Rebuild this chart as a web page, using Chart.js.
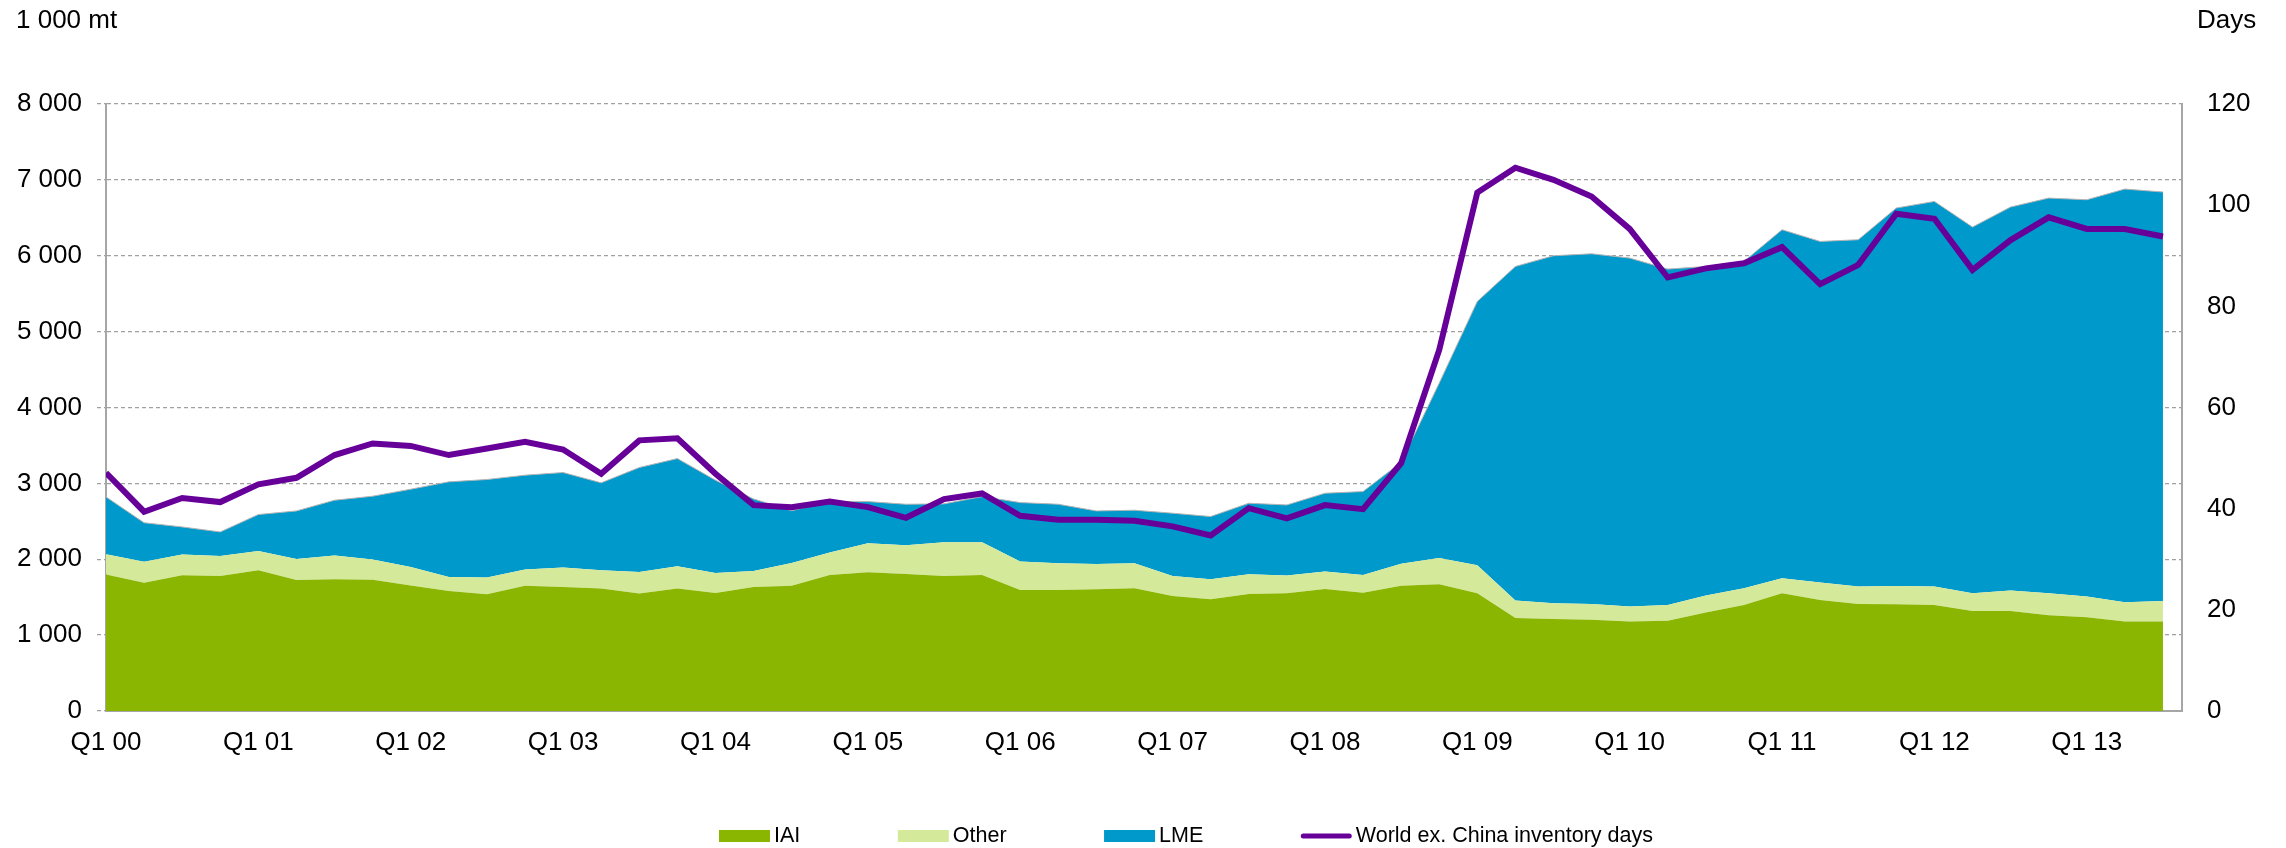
<!DOCTYPE html>
<html>
<head>
<meta charset="utf-8">
<script src="https://cdn.jsdelivr.net/npm/chart.js@4"></script>
<style>
  html, body { margin: 0; padding: 0; background: #fff; }
  #wrap { width: 2286px; height: 848px; position: relative; }
</style>
</head>
<body>
<div id="wrap"><canvas id="stocks"></canvas></div>
<script>
// quarterly, Q1 00 .. Q3 13
const quarters = [
  'Q1 00', 'Q2 00', 'Q3 00', 'Q4 00', 'Q1 01', 'Q2 01', 'Q3 01', 'Q4 01',
  'Q1 02', 'Q2 02', 'Q3 02', 'Q4 02', 'Q1 03', 'Q2 03', 'Q3 03', 'Q4 03',
  'Q1 04', 'Q2 04', 'Q3 04', 'Q4 04', 'Q1 05', 'Q2 05', 'Q3 05', 'Q4 05',
  'Q1 06', 'Q2 06', 'Q3 06', 'Q4 06', 'Q1 07', 'Q2 07', 'Q3 07', 'Q4 07',
  'Q1 08', 'Q2 08', 'Q3 08', 'Q4 08', 'Q1 09', 'Q2 09', 'Q3 09', 'Q4 09',
  'Q1 10', 'Q2 10', 'Q3 10', 'Q4 10', 'Q1 11', 'Q2 11', 'Q3 11', 'Q4 11',
  'Q1 12', 'Q2 12', 'Q3 12', 'Q4 12', 'Q1 13', 'Q2 13', 'Q3 13'
];

// stocks, 1 000 mt
const iai = [
  1800, 1690, 1790, 1780, 1855, 1725, 1735, 1730, 1655, 1580, 1540, 1650, 1635, 1615,
  1550, 1615, 1555, 1633, 1650, 1793, 1829, 1807, 1780, 1793, 1596, 1596, 1604, 1618,
  1516, 1473, 1543, 1552, 1609, 1560, 1650, 1672, 1552, 1225, 1213, 1204, 1178, 1191,
  1297, 1398, 1552, 1464, 1411, 1407, 1398, 1319, 1319, 1262, 1235, 1178, 1178
];
const other = [
  266, 277, 272, 264, 255, 279, 313, 266, 244, 187, 218, 214, 255, 240,
  283, 293, 265, 213, 300, 295, 382, 378, 444, 431, 373, 351, 334, 329,
  264, 263, 259, 233, 228, 233, 290, 346, 368, 230, 207, 207, 198, 207,
  224, 220, 197, 228, 229, 241, 242, 233, 268, 290, 273, 255, 273
];
const lme = [
  756, 514, 364, 316, 479, 633, 730, 835, 1024, 1253, 1293, 1244, 1253, 1152,
  1376, 1419, 1222, 949, 690, 672, 549, 540, 506, 602, 778, 778, 699, 699,
  827, 827, 936, 931, 1033, 1099, 1337, 2303, 3478, 4404, 4580, 4615, 4593, 4426,
  4338, 4307, 4594, 4497, 4571, 4981, 5076, 4826, 5055, 5208, 5230, 5446, 5389
];
// world ex. China inventory days (right axis)
const days = [
  47.1, 39.4, 42.1, 41.3, 44.8, 46.1, 50.6, 52.9, 52.4, 50.6, 51.9, 53.2, 51.7, 46.9,
  53.5, 53.9, 46.9, 40.7, 40.3, 41.4, 40.3, 38.2, 41.9, 43.0, 38.6, 37.8, 37.8, 37.6,
  36.5, 34.7, 40.1, 38.1, 40.7, 39.9, 49.0, 71.4, 102.5, 107.4, 105.0, 101.7, 95.3, 85.7,
  87.5, 88.5, 91.7, 84.4, 88.2, 98.3, 97.3, 87.2, 93.1, 97.6, 95.3, 95.3, 93.8
];

const seriesNames = ['IAI', 'Other', 'LME', 'World ex. China inventory days'];
const colors = ['#8ab500', '#d5e99b', '#0099cc', '#660099'];

const fontFamily = '"Liberation Sans", Arial, sans-serif';
const tickFont = { family: fontFamily, size: 26 };
const axisGrey = '#a6a6a6';

const toPoints = arr => arr.map((v, i) => ({ x: i, y: v }));
const spaced = v => v >= 1000 ? Math.floor(v / 1000) + ' ' + String(v % 1000).padStart(3, '0') : String(v);

const area = (idx, data, fill, edge) => ({
  label: seriesNames[idx],
  data: toPoints(data),
  yAxisID: 'y',
  fill: fill,
  backgroundColor: colors[idx],
  borderColor: edge || colors[idx],
  borderWidth: edge ? 1 : 0,
  pointRadius: 0,
  tension: 0,
  order: 1
});

// unit labels above both axes and the legend row under the chart
const extras = {
  id: 'extras',
  afterDraw(chart) {
    const ctx = chart.ctx;
    ctx.save();
    ctx.fillStyle = '#000';
    ctx.font = '26px ' + fontFamily;
    ctx.textBaseline = 'alphabetic';
    ctx.textAlign = 'left';
    ctx.fillText('1 000 mt', 16, 28);
    ctx.fillText('Days', 2197, 28);

    ctx.font = '21.5px ' + fontFamily;
    ctx.textBaseline = 'middle';
    let x = 719;
    const y = 836;
    chart.data.datasets.forEach(ds => {
      if (ds.fill === false) {
        ctx.strokeStyle = ds.borderColor;
        ctx.lineWidth = 5;
        ctx.lineCap = 'round';
        ctx.beginPath();
        ctx.moveTo(x + 2.5, y);
        ctx.lineTo(x + 48.5, y);
        ctx.stroke();
      } else {
        ctx.fillStyle = ds.backgroundColor;
        ctx.fillRect(x, y - 6, 51, 12);
      }
      ctx.fillStyle = '#000';
      ctx.fillText(ds.label, x + 55, y);
      x += 55 + ctx.measureText(ds.label).width + 97.5;
    });
    ctx.restore();
  }
};

new Chart(document.getElementById('stocks'), {
  type: 'line',
  data: {
    datasets: [
      area(0, iai, 'origin'),
      area(1, other, '-1'),
      area(2, lme, '-1', '#b4b4b4'),
      {
        label: seriesNames[3],
        data: toPoints(days),
        yAxisID: 'y1',
        fill: false,
        borderColor: colors[3],
        backgroundColor: colors[3],
        borderWidth: 6,
        pointRadius: 0,
        tension: 0,
        order: 0
      }
    ]
  },
  options: {
    responsive: true,
    maintainAspectRatio: false,
    animation: false,
    layout: { padding: { top: 104, left: 0, right: 0, bottom: 0 } },
    plugins: {
      legend: { display: false },
      tooltip: { enabled: false }
    },
    scales: {
      x: {
        type: 'linear',
        min: 0,
        max: quarters.length - 0.5,
        afterFit: s => { s.height = 137; },
        grid: { display: false, drawTicks: false },
        border: { display: true, color: axisGrey, width: 2 },
        ticks: {
          stepSize: 4,
          autoSkip: false,
          maxRotation: 0,
          includeBounds: false,
          padding: 16,
          color: '#000',
          font: tickFont,
          callback: v => quarters[v] || ''
        }
      },
      y: {
        position: 'left',
        stacked: true,
        min: 0,
        max: 8000,
        afterFit: s => { s.width = 106; },
        grid: { color: '#a0a0a0', lineWidth: 1.3, drawTicks: true, tickLength: 9, tickBorderDash: [4, 3] },
        border: { display: true, color: axisGrey, width: 2, dash: [4, 3] },
        ticks: { stepSize: 1000, padding: 15, color: '#000', font: tickFont, callback: v => spaced(v) }
      },
      y1: {
        position: 'right',
        min: 0,
        max: 120,
        afterFit: s => { s.width = 104; },
        grid: { display: false, drawTicks: false },
        border: { display: true, color: axisGrey, width: 2 },
        ticks: { stepSize: 20, padding: 25, color: '#000', font: tickFont }
      }
    }
  },
  plugins: [extras]
});
</script>
</body>
</html>
